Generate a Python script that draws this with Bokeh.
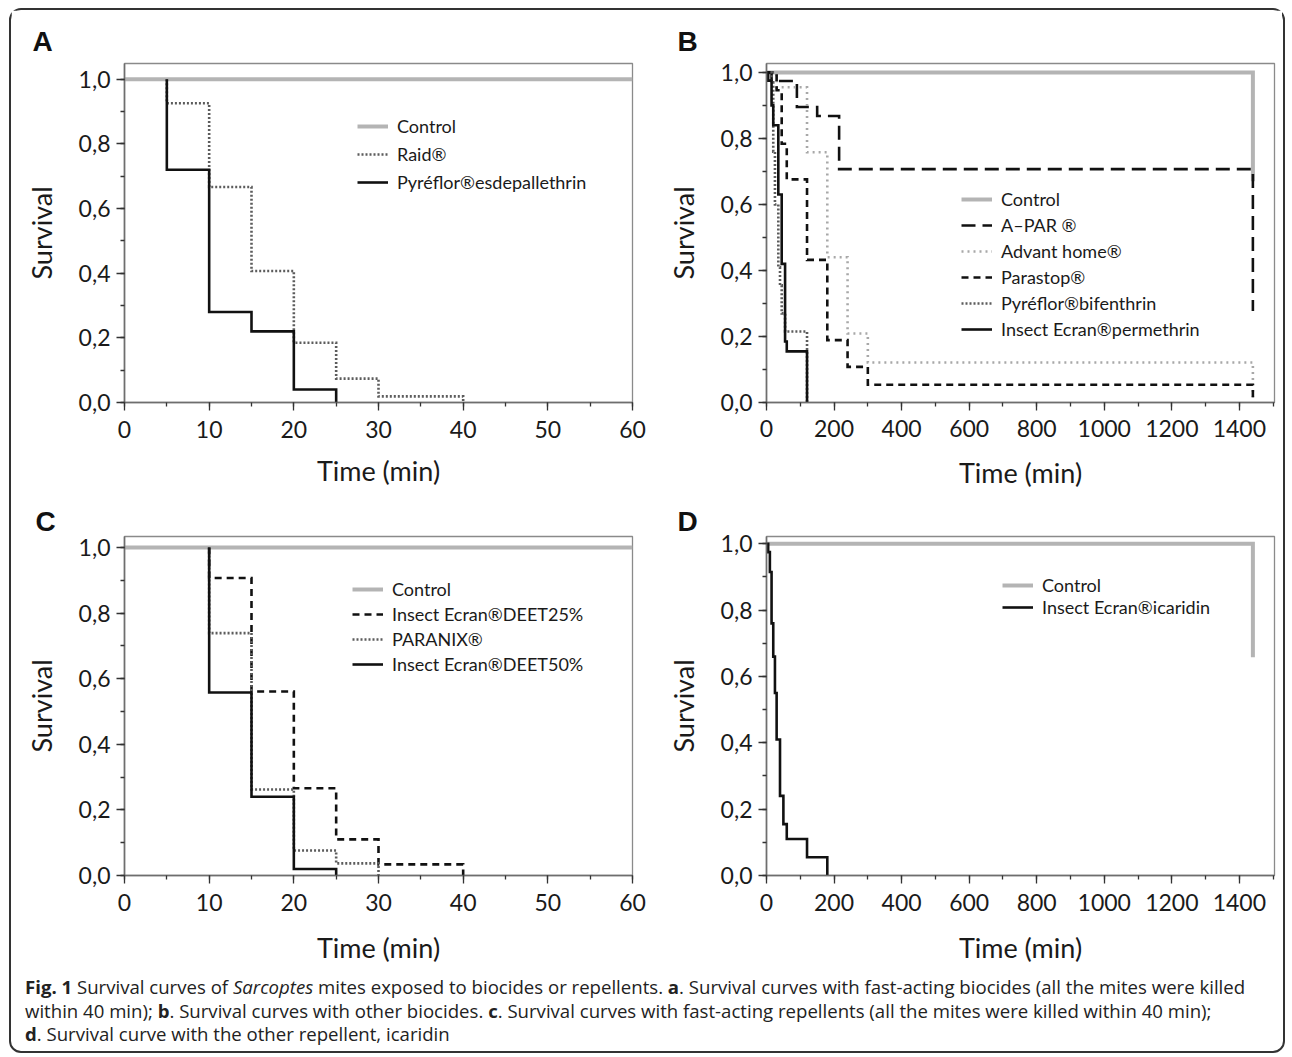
from bokeh.plotting import figure
from bokeh.models import (Range1d, SingleIntervalTicker, CustomJSTickFormatter,
                          Legend, LegendItem, Div)
from bokeh.layouts import row, column
from bokeh.embed import file_html
from bokeh.resources import INLINE

FONT = "Lato"

# ---------------- data (Kaplan-Meier steps: time, survival after time) -------------
# Panel A
a_ctrl_t = [0, 60]
a_ctrl_s = [1.0, 1.0]
a_raid_t = [5, 5, 10, 15, 20, 25, 30, 40]
a_raid_s = [1.0, 0.926, 0.667, 0.407, 0.185, 0.074, 0.019, 0.0]
a_pyr_t = [5, 5, 10, 15, 20, 25]
a_pyr_s = [1.0, 0.72, 0.28, 0.22, 0.04, 0.0]

# Panel B
b_ctrl_t = [0, 1440, 1440]
b_ctrl_s = [1.0, 1.0, 0.67]
b_apar_t = [0, 15, 90, 150, 215, 1440]
b_apar_s = [1.0, 0.974, 0.895, 0.868, 0.707, 0.277]
b_advant_t = [0, 30, 120, 180, 240, 300, 1440]
b_advant_s = [1.0, 0.955, 0.758, 0.44, 0.209, 0.121, 0.0]
b_parastop_t = [0, 30, 45, 60, 120, 180, 240, 300, 1440]
b_parastop_s = [1.0, 0.946, 0.784, 0.676, 0.432, 0.189, 0.108, 0.054, 0.0]
b_bif_t = [0, 15, 20, 25, 35, 40, 45, 55, 120]
b_bif_s = [1.0, 0.97, 0.76, 0.6, 0.41, 0.355, 0.27, 0.215, 0.0]
b_perm_t = [0, 5, 15, 20, 35, 45, 55, 60, 120]
b_perm_s = [1.0, 0.975, 0.9, 0.84, 0.63, 0.42, 0.185, 0.155, 0.0]

# Panel C
c_ctrl_t = [0, 60]
c_ctrl_s = [1.0, 1.0]
c_deet25_t = [10, 10, 15, 20, 25, 30, 40]
c_deet25_s = [1.0, 0.907, 0.561, 0.266, 0.11, 0.034, 0.0]
c_paranix_t = [10, 10, 15, 20, 25, 30]
c_paranix_s = [1.0, 0.739, 0.262, 0.076, 0.037, 0.0]
c_deet50_t = [10, 10, 15, 20, 25]
c_deet50_s = [1.0, 0.558, 0.24, 0.02, 0.0]

# Panel D
d_ctrl_t = [0, 1440, 1440]
d_ctrl_s = [1.0, 1.0, 0.658]
d_icar_t = [0, 5, 10, 15, 20, 25, 30, 40, 50, 60, 120, 180]
d_icar_s = [1.0, 0.975, 0.915, 0.76, 0.66, 0.55, 0.41, 0.24, 0.155, 0.11, 0.055, 0.0]

# labels
x_title = "Time (min)"
y_title = "Survival"
legend_a = ["Control", "Raid®", "Pyréflor®esdepallethrin"]
legend_b = ["Control", "A–PAR ®", "Advant home®", "Parastop®",
            "Pyréflor®bifenthrin", "Insect Ecran®permethrin"]
legend_c = ["Control", "Insect Ecran®DEET25%", "PARANIX®", "Insect Ecran®DEET50%"]
legend_d = ["Control", "Insect Ecran®icaridin"]
panel_letters = ["A", "B", "C", "D"]

GRAY = "#b4b4b4"
BLACK = "#111111"
DOT = "#5c5c5c"


def base_fig(width, height, bl, br, bt, bb, x_end, y_end, x_int,
             tick_standoff, title_standoff, letter, letter_offset, letter_standoff):
    p = figure(width=width, height=height, output_backend="svg", toolbar_location=None,
               x_range=Range1d(0, x_end), y_range=Range1d(0, y_end),
               min_border_left=bl, min_border_right=br,
               min_border_top=bt, min_border_bottom=bb)
    p.title.text = letter
    p.title.align = "left"
    p.title.offset = letter_offset
    p.title.standoff = letter_standoff
    p.title.text_font = "Liberation Sans"
    p.title.text_font_style = "bold"
    p.title.text_font_size = "28px"
    p.title.text_color = "#111111"
    p.grid.visible = False
    p.outline_line_color = "#8a8a8a"
    p.outline_line_width = 1.3
    p.xaxis.ticker = SingleIntervalTicker(interval=x_int, num_minor_ticks=2)
    p.yaxis.ticker = SingleIntervalTicker(interval=0.2, num_minor_ticks=2)
    p.yaxis.formatter = CustomJSTickFormatter(
        code="return tick.toFixed(1).replace('.', ',');")
    for ax in (p.xaxis[0], p.yaxis[0]):
        ax.axis_line_color = "#6e6e6e"
        ax.axis_line_width = 1.6
        ax.major_tick_line_color = "#333333"
        ax.minor_tick_line_color = "#333333"
        ax.major_tick_line_width = 1.3
        ax.minor_tick_line_width = 1.3
        ax.major_tick_in = 0
        ax.major_tick_out = 8
        ax.minor_tick_in = 0
        ax.minor_tick_out = 4
        ax.major_label_text_font = FONT
        ax.major_label_text_font_size = "23px"
        ax.major_label_text_color = "#1a1a1a"
        ax.axis_label_text_font = FONT
        ax.axis_label_text_font_size = "27px"
        ax.axis_label_text_font_style = "normal"
        ax.axis_label_text_color = "#1a1a1a"
    p.xaxis.axis_label = x_title
    p.yaxis.axis_label = y_title
    p.xaxis.major_label_standoff = tick_standoff
    p.xaxis.axis_label_standoff = title_standoff
    p.yaxis.major_label_standoff = 6
    p.yaxis.axis_label_standoff = 18
    return p


def add_legend(p, renderers, labels, loc, spacing):
    items = [LegendItem(label=l, renderers=[r]) for l, r in zip(labels, renderers)]
    lg = Legend(items=items, location=loc, border_line_color=None,
                background_fill_alpha=0, padding=0, margin=0, spacing=spacing,
                glyph_width=31, glyph_height=20, label_height=20, label_standoff=9,
                label_text_font=FONT, label_text_font_size="18px",
                label_text_color="#1a1a1a")
    p.add_layout(lg)


def kstep(p, t, s, color, width, dash="solid"):
    return p.step(x=t, y=s, mode="after", line_color=color, line_width=width,
                  line_dash=dash, line_join="miter")


# ---------------- Panel A ----------------
pA = base_fig(641, 490, 113, 20, 53, 96, 60, 1.049, 10, 10, 13,
              panel_letters[0], -92, 13)
rA = [kstep(pA, a_ctrl_t, a_ctrl_s, GRAY, 4),
      kstep(pA, a_raid_t, a_raid_s, DOT, 2.6, "2 2"),
      kstep(pA, a_pyr_t, a_pyr_s, BLACK, 2.6)]
add_legend(pA, rA, legend_a, (233, 209), 6)

# ---------------- Panel B ----------------
pB = base_fig(630, 490, 114, 8, 52, 98, 1504, 1.027, 200, 9, 16,
              panel_letters[1], -89, 13)
rB = [kstep(pB, b_ctrl_t, b_ctrl_s, GRAY, 4),
      kstep(pB, b_apar_t, b_apar_s, BLACK, 2.6, "14 7"),
      kstep(pB, b_advant_t, b_advant_s, "#a8a8a8", 2.6, "2 4"),
      kstep(pB, b_parastop_t, b_parastop_s, BLACK, 2.6, "7 5"),
      kstep(pB, b_bif_t, b_bif_s, DOT, 2.6, "2 2"),
      kstep(pB, b_perm_t, b_perm_s, BLACK, 2.6)]
add_legend(pB, rB, legend_b, (195, 62), 4)

# ---------------- Panel C ----------------
pC = base_fig(641, 475, 113, 20, 36, 99, 60, 1.0334, 10, 10, 17,
              panel_letters[2], -89, 0)
rC = [kstep(pC, c_ctrl_t, c_ctrl_s, GRAY, 4),
      kstep(pC, c_deet25_t, c_deet25_s, BLACK, 2.6, "7 5"),
      kstep(pC, c_paranix_t, c_paranix_s, DOT, 2.6, "2 2"),
      kstep(pC, c_deet50_t, c_deet50_s, BLACK, 2.6)]
add_legend(pC, rC, legend_c, (228, 200), 3)

# ---------------- Panel D ----------------
pD = base_fig(630, 475, 114, 8, 36, 100, 1504, 1.022, 200, 10, 17,
              panel_letters[3], -89, 0)
rD = [kstep(pD, d_ctrl_t, d_ctrl_s, GRAY, 4),
      kstep(pD, d_icar_t, d_icar_s, BLACK, 2.6)]
add_legend(pD, rD, legend_d, (236, 257), 0)

caption_html = (
    "<div style=\"font-family:'Open Sans';font-size:18.6px;line-height:23.5px;"
    "color:#222;padding-left:14px;white-space:nowrap;\">"
    "<b>Fig. 1</b> Survival curves of <i>Sarcoptes</i> mites exposed to biocides or "
    "repellents. <b>a</b>. Survival curves with fast-acting biocides (all the mites were killed<br>"
    "within 40 min); <b>b</b>. Survival curves with other "
    "biocides. <b>c</b>. Survival curves with fast-acting repellents (all the mites were killed "
    "within 40 min);<br>"
    "<b>d</b>. Survival curve with the other repellent, icaridin"
    "</div>"
)
cap = Div(text=caption_html, width=1272, height=76, margin=(0, 0, 0, 0))

layout = column(row(pA, pB), row(pC, pD), cap, margin=(8, 0, 0, 9),
                styles={"border": "2px solid #333", "border-radius": "12px",
                        "background": "white"})

open("out.html", "w").write(file_html(layout, INLINE))
